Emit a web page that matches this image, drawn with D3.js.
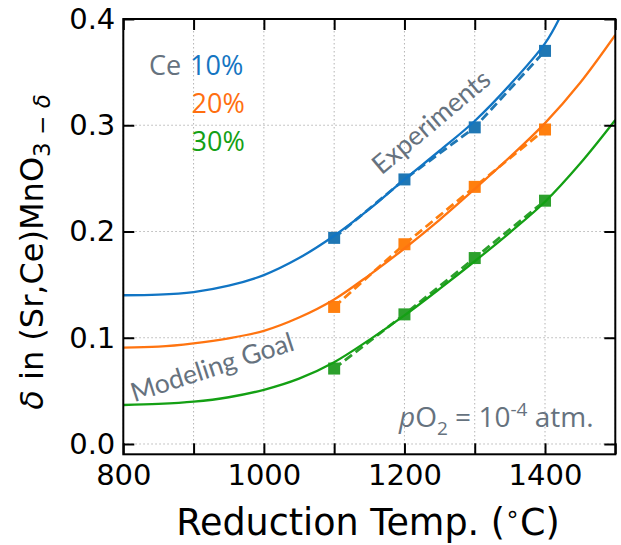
<!DOCTYPE html>
<html><head><meta charset="utf-8">
<script src="https://cdn.jsdelivr.net/npm/d3@7"></script>
<style>body{margin:0;background:#fff}</style>
</head><body>
<svg id="c" width="621" height="545"></svg>
<script>
// ---- data ----
const expTemps = [1100, 1200, 1300, 1400];
const expCe10 = [0.194, 0.249, 0.298, 0.370];
const expCe20 = [0.129, 0.188, 0.242, 0.296];
const expCe30 = [0.071, 0.122, 0.175, 0.229];

const modelTemps10 = [800, 850, 900, 950, 1000, 1050, 1100, 1150, 1200, 1250, 1300, 1350, 1400, 1420];
const modelCe10 = [0.140, 0.1405, 0.143, 0.149, 0.159, 0.175, 0.196, 0.221, 0.249, 0.276, 0.304, 0.338, 0.377, 0.400];
const modelTemps = [800, 850, 900, 950, 1000, 1050, 1100, 1150, 1200, 1250, 1300, 1350, 1400, 1450, 1500];
const modelCe20 = [0.0907, 0.0916, 0.0948, 0.0995, 0.1065, 0.119, 0.136, 0.159, 0.184, 0.211, 0.240, 0.270, 0.302, 0.340, 0.385];
const modelCe30 = [0.0367, 0.0377, 0.0398, 0.044, 0.051, 0.0615, 0.077, 0.098, 0.121, 0.146, 0.172, 0.199, 0.228, 0.264, 0.305];

const xTicks = [800, 900, 1000, 1100, 1200, 1300, 1400, 1500];
const xTickLabels = ["800", "", "1000", "", "1200", "", "1400", ""];
const yTicks = [0.0, 0.1, 0.2, 0.3, 0.4];
const yTickLabels = ["0.0", "0.1", "0.2", "0.3", "0.4"];
const seriesLabels = ["10%", "20%", "30%"];

// ---- styles ----
const markColors = ["#1f77b4", "#ff7f0e", "#2ca02c"];
const lineColors = ["#1175c4", "#ff7410", "#14a014"];
const labelColors = ["#1575c2", "#ff6f10", "#14a014"];
const gray = "#66727e";

const svg = d3.select("#c");
const x = d3.scaleLinear().domain([800, 1500]).range([123.3, 615.3]);
const y = d3.scaleLinear().domain([-0.0097, 0.4]).range([454.3, 19]);
const L = x.range()[0], R = x.range()[1], T = y.range()[1], B = y.range()[0];

// grid
const grid = svg.append("g");
xTicks.forEach(t => grid.append("line").attr("x1", x(t)).attr("x2", x(t)).attr("y1", T).attr("y2", B)
  .attr("stroke", "#b4b4b4").attr("stroke-width", 1).attr("stroke-dasharray", "1.5,2.5"));
yTicks.forEach(t => grid.append("line").attr("x1", L).attr("x2", R).attr("y1", y(t)).attr("y2", y(t))
  .attr("stroke", "#b4b4b4").attr("stroke-width", 1).attr("stroke-dasharray", "1.5,2.5"));

svg.append("clipPath").attr("id", "clip").append("rect").attr("x", L).attr("y", T).attr("width", R - L).attr("height", B - T);

const plot = svg.append("g").attr("clip-path", "url(#clip)");
const line = d3.line().x(d => x(d[0])).y(d => y(d[1])).curve(d3.curveCatmullRom.alpha(0.5));
const lineLin = d3.line().x(d => x(d[0])).y(d => y(d[1]));

const models = [d3.zip(modelTemps10, modelCe10), d3.zip(modelTemps, modelCe20), d3.zip(modelTemps, modelCe30)];
const exps = [d3.zip(expTemps, expCe10), d3.zip(expTemps, expCe20), d3.zip(expTemps, expCe30)];

exps.forEach((e, i) => {
  plot.append("path").attr("d", lineLin(e)).attr("fill", "none").attr("stroke", markColors[i])
    .attr("stroke-width", 2.8).attr("stroke-dasharray", "9,4.5");
  plot.selectAll(null).data(e).enter().append("rect")
    .attr("x", d => x(d[0]) - 6).attr("y", d => y(d[1]) - 6).attr("width", 12).attr("height", 12)
    .attr("fill", markColors[i]);
});
models.forEach((m, i) => {
  plot.append("path").attr("d", line(m)).attr("fill", "none").attr("stroke", lineColors[i]).attr("stroke-width", 2.3);
});

// axes
const fontAx = "DejaVu Sans";
function styleAxis(g) {
  g.select(".domain").remove();
  g.selectAll(".tick line").attr("stroke", "#000").attr("stroke-width", 2);
  g.selectAll("text").attr("font-family", fontAx).attr("font-size", 29).attr("fill", "#000");
}
const xAxis = svg.append("g").attr("transform", `translate(0,${B})`)
  .call(d3.axisBottom(x).tickValues(xTicks).tickSize(-11).tickPadding(10).tickFormat((d, i) => xTickLabels[i]));
styleAxis(xAxis);
const xTop = svg.append("g").attr("transform", `translate(0,${T})`)
  .call(d3.axisTop(x).tickValues(xTicks).tickSize(-11).tickFormat(""));
styleAxis(xTop);
const yAxis = svg.append("g").attr("transform", `translate(${L},0)`)
  .call(d3.axisLeft(y).tickValues(yTicks).tickSize(-11).tickPadding(8).tickFormat((d, i) => yTickLabels[i]));
styleAxis(yAxis);
const yRight = svg.append("g").attr("transform", `translate(${R},0)`)
  .call(d3.axisRight(y).tickValues(yTicks).tickSize(-11).tickFormat(""));
styleAxis(yRight);

// spines
svg.append("rect").attr("x", L).attr("y", T).attr("width", R - L).attr("height", B - T)
  .attr("fill", "none").attr("stroke", "#000").attr("stroke-width", 2);

// axis labels
const xl = svg.append("text").attr("x", 368).attr("y", 535).attr("text-anchor", "middle")
  .attr("font-family", fontAx).attr("font-size", 36.5).attr("fill", "#000");
xl.append("tspan").text("Reduction Temp. (");
xl.append("tspan").attr("font-size", 24).attr("dy", -13).text("∘");
xl.append("tspan").attr("dy", 13).text("C)");

const yl = svg.append("text").attr("transform", "translate(43,252) rotate(-90)").attr("text-anchor", "middle")
  .attr("font-family", fontAx).attr("font-size", 32).attr("fill", "#000");
yl.append("tspan").attr("font-style", "italic").text("δ");
yl.append("tspan").text(" in (Sr,Ce)MnO");
yl.append("tspan").attr("font-size", 23).attr("dy", 7).text("3");
yl.append("tspan").attr("font-size", 23).text(" − ");
yl.append("tspan").attr("font-size", 23).attr("font-style", "italic").text("δ");

// annotations
const fontAnn = "Open Sans";
svg.append("text").attr("x", 149).attr("y", 75).attr("font-family", fontAnn).attr("font-size", 27).attr("fill", gray).text("Ce");
const labY = [75, 113, 151];
seriesLabels.forEach((s, i) => {
  svg.append("text").attr("x", 190 + (i ? 1.5 : 0)).attr("y", labY[i]).attr("font-family", fontAnn).attr("font-size", 27)
    .attr("fill", labelColors[i]).text(s);
});

svg.append("text").attr("transform", "translate(437,129) rotate(-40)").attr("text-anchor", "middle")
  .attr("font-family", "Lato").attr("font-size", 26.5).attr("fill", gray).text("Experiments");
svg.append("text").attr("transform", "translate(215,376) rotate(-18)").attr("text-anchor", "middle")
  .attr("font-family", "Lato").attr("font-size", 26.5).attr("fill", gray).text("Modeling Goal");

const po = svg.append("text").attr("x", 399).attr("y", 427).attr("font-family", fontAnn).attr("font-size", 28).attr("fill", gray);
po.append("tspan").attr("font-style", "italic").text("p");
po.append("tspan").text("O");
po.append("tspan").attr("font-size", 19).attr("dy", 8).text("2");
po.append("tspan").attr("dy", -8).text(" = 10");
po.append("tspan").attr("font-size", 19).attr("dy", -11).text("-4");
po.append("tspan").attr("dy", 11).text(" atm.");
</script>
</body></html>
